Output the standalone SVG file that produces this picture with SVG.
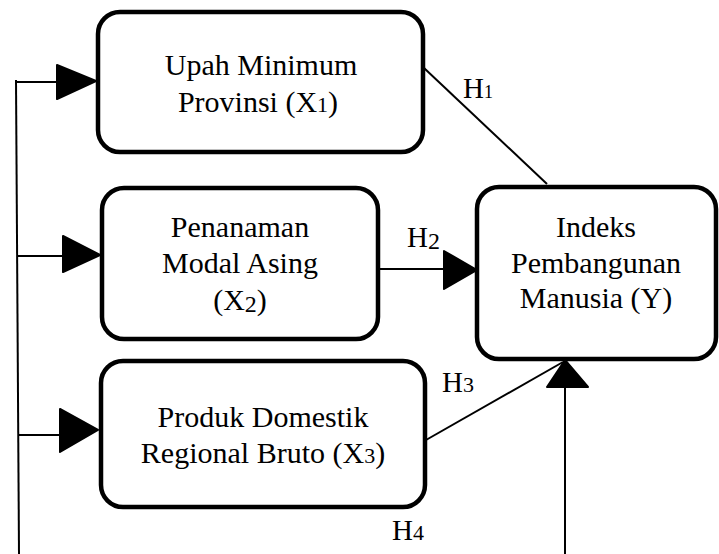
<svg xmlns="http://www.w3.org/2000/svg" width="719" height="554" viewBox="0 0 719 554">
<style>
.box{fill:#fff;stroke:#000;stroke-width:4.5}
.t{font-family:"Liberation Serif","Times New Roman",serif;font-size:30px;fill:#000;text-anchor:middle}
.h{font-family:"Liberation Serif","Times New Roman",serif;font-size:29px;fill:#000}
.ln{stroke:#000;stroke-width:2;fill:none}
.ah{fill:#000;stroke:#000;stroke-width:2;stroke-linejoin:round}
</style>
<rect width="719" height="554" fill="#fff"/>
<g id="connectors">
<line class="ln" x1="16" y1="80" x2="19" y2="554"/>
<line class="ln" x1="16" y1="82" x2="58" y2="82"/>
<polygon class="ah" points="57,65 96,81 57,99"/>
<line class="ln" x1="17" y1="256" x2="64" y2="256"/>
<polygon class="ah" points="63,236 100,255 63,272"/>
<line class="ln" x1="18" y1="435" x2="61" y2="435"/>
<polygon class="ah" points="60,409 98,430 60,452"/>
<line class="ln" x1="424" y1="68" x2="547" y2="184"/>
<line class="ln" x1="378" y1="269" x2="445" y2="269"/>
<polygon class="ah" points="444,251 477,270 444,289"/>
<line class="ln" x1="426" y1="440" x2="563" y2="362"/>
<line class="ln" x1="565" y1="386" x2="565" y2="554"/>
<polygon class="ah" points="547,387 565,360 588,387"/>
<text class="h" x="463" y="98">H<tspan font-size="18">1</tspan></text>
<text class="h" x="407" y="247">H<tspan font-size="24" dy="2">2</tspan></text>
<text class="h" x="442" y="392">H<tspan font-size="22">3</tspan></text>
<text class="h" x="392" y="540">H<tspan font-size="22">4</tspan></text>
</g>
<g id="node-x1">
<rect class="box" x="98" y="12" width="325" height="140" rx="22"/>
<text class="t" x="261" y="75">Upah Minimum</text>
<text class="t" x="258" y="112">Provinsi (X<tspan font-size="22">1</tspan>)</text>
</g>
<g id="node-x2">
<rect class="box" x="102" y="188" width="276" height="151" rx="22"/>
<text class="t" x="240" y="237">Penanaman</text>
<text class="t" x="240" y="273">Modal Asing</text>
<text class="t" x="240" y="310">(X<tspan font-size="24" dy="2">2</tspan><tspan dy="-2">)</tspan></text>
</g>
<g id="node-x3">
<rect class="box" x="101" y="361" width="324" height="146" rx="22"/>
<text class="t" x="263" y="427">Produk Domestik</text>
<text class="t" x="263" y="463">Regional Bruto (X<tspan font-size="22">3</tspan>)</text>
</g>
<g id="node-y">
<rect class="box" x="477" y="187" width="239" height="172" rx="22"/>
<text class="t" x="596" y="237">Indeks</text>
<text class="t" x="596" y="273">Pembangunan</text>
<text class="t" x="596" y="308">Manusia (Y)</text>
</g>
</svg>
